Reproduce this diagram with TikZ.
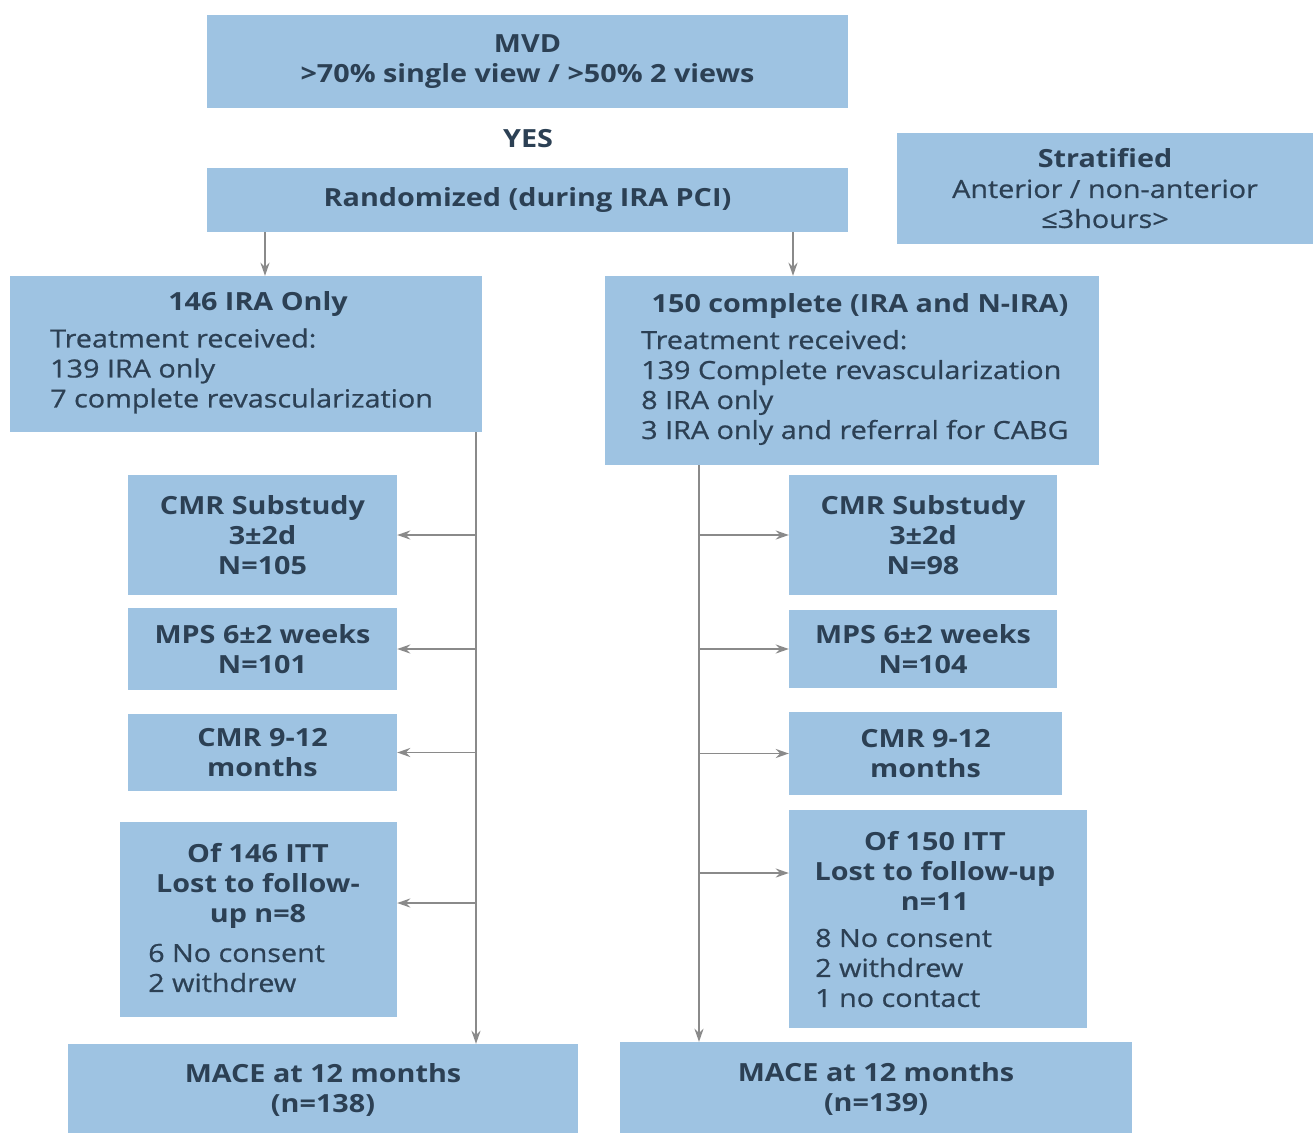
\documentclass[tikz,border=0pt]{standalone}
\usepackage{fontspec}
\setmainfont{Open Sans}[FakeStretch=1.15]
\newfontfamily\bodyfont{Open Sans}[FakeStretch=1.15, FakeBold=0.7]
\usetikzlibrary{arrows.meta}
\definecolor{boxblue}{RGB}{158,195,226}
\definecolor{txtc}{RGB}{44,64,84}
\definecolor{linec}{RGB}{138,138,138}
\tikzset{
  box/.style={fill=boxblue, draw=none, inner sep=0pt, align=center, text=txtc,
    font=\fontsize{25}{30}\selectfont\bfseries},
  txt/.style={inner sep=0pt, text=txtc, font=\bodyfont\fontsize{25}{30}\selectfont},
  ttl/.style={inner sep=0pt, text=txtc, align=center, font=\fontsize{25}{30}\selectfont\bfseries},
  arr/.style={draw=linec, line width=1.8pt, -{Stealth[length=13pt,width=9pt]}},
}
\begin{document}
\begin{tikzpicture}[x=1pt,y=-1pt]
\useasboundingbox (0,0) rectangle (1313,1132);
\clip (0,0) rectangle (1313,1132);
\fill[white] (0,0) rectangle (1313,1132);
% top
\node[box, minimum width=641, minimum height=93] (mvd) at (527.5,61.5) {MVD\\>70\% single view / >50\% 2 views};
\node[ttl] (yes) at (528,139) {YES};
\node[box, minimum width=641, minimum height=64] (rand) at (527.5,200) {Randomized (during IRA PCI)};
\node[box, minimum width=416, minimum height=111] (strat) at (1105,188.5) {Stratified\\{\mdseries\bodyfont Anterior / non-anterior}\\{\mdseries\bodyfont ≤3hours>}};
% arms
\node[box, minimum width=472, minimum height=156] (ira) at (246,354) {};
\node[ttl] (iratitle) at (258,304) {146 IRA Only};
\node[txt, anchor=west, align=left] (iralist) at (50,371) {Treatment received:\\139 IRA only\\7 complete revascularization};
\node[box, minimum width=494, minimum height=189] (comp) at (852,370.5) {};
\node[ttl] (comptitle) at (860,306) {150 complete (IRA and N-IRA)};
\node[txt, anchor=west, align=left] (complist) at (641,387.5) {Treatment received:\\139 Complete revascularization\\8 IRA only\\3 IRA only and referral for CABG};
% left column
\node[box, minimum width=269, minimum height=120] (l1) at (262.5,535) {CMR Substudy\\3±2d\\N=105};
\node[box, minimum width=269, minimum height=82] (l2) at (262.5,649) {MPS 6±2 weeks\\N=101};
\node[box, minimum width=269, minimum height=77] (l3) at (262.5,752.5) {CMR 9-12\\months};
\node[box, minimum width=277, minimum height=195] (l4) at (258.5,919.5) {};
\node[ttl] (l4title) at (258,885.5) {Of 146 ITT\\Lost to follow-\\up n=8};
\node[txt, anchor=west, align=left] (l4list) at (148,968) {6 No consent\\2 withdrew};
\node[box, minimum width=510, minimum height=92] (lmace) at (323,1090) {MACE at 12 months\\(n=138)};
% right column
\node[box, minimum width=268, minimum height=120] (r1) at (923,535) {CMR Substudy\\3±2d\\N=98};
\node[box, minimum width=268, minimum height=78] (r2) at (923,649) {MPS 6±2 weeks\\N=104};
\node[box, minimum width=273, minimum height=83] (r3) at (925.5,753.5) {CMR 9-12\\months};
\node[box, minimum width=298, minimum height=218] (r4) at (938,919) {};
\node[ttl] (r4title) at (935,870.5) {Of 150 ITT\\Lost to follow-up\\n=11};
\node[txt, anchor=west, align=left] (r4list) at (815,968) {8 No consent\\2 withdrew\\1 no contact};
\node[box, minimum width=512, minimum height=94] (rmace) at (876,1089) {MACE at 12 months\\(n=139)};
% connectors
\coordinate (la) at (265,0);
\coordinate (ra) at (793,0);
\coordinate (lv) at (476,0);
\coordinate (rv) at (699,0);
\draw[arr] (la |- rand.south) -- (la |- ira.north);
\draw[arr] (ra |- rand.south) -- (ra |- comp.north);
\draw[arr] (lv |- ira.south) -- (lv |- lmace.north);
\draw[arr] (rv |- comp.south) -- (rv |- rmace.north);
\draw[arr] (lv |- l1.east) -- (l1.east);
\draw[arr] (lv |- l2.east) -- (l2.east);
\draw[arr] (lv |- l3.east) -- (l3.east);
\coordinate (l4in) at ([yshift=16.5pt]l4.east);
\draw[arr] (lv |- l4in) -- (l4in);
\draw[arr] (rv |- r1.west) -- (r1.west);
\draw[arr] (rv |- r2.west) -- (r2.west);
\draw[arr] (rv |- r3.west) -- (r3.west);
\coordinate (r4in) at ([yshift=46pt]r4.west);
\draw[arr] (rv |- r4in) -- (r4in);
\end{tikzpicture}
\end{document}
